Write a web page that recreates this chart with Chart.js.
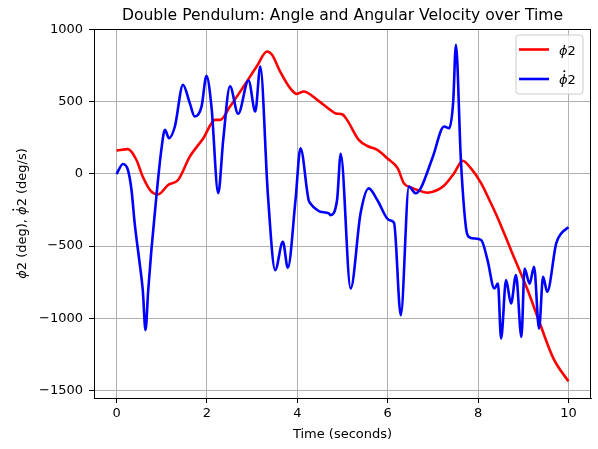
<!DOCTYPE html>
<html><head><meta charset="utf-8">
<script src="https://cdn.jsdelivr.net/npm/chart.js@4.4.0/dist/chart.umd.min.js"></script>
<style>html,body{margin:0;padding:0;background:#fff;overflow:hidden;} #wrap{width:598px;height:449px;position:relative;}</style>
</head><body><div id="wrap"><canvas id="c" width="598" height="449"></canvas></div>
<script>
const timePhi = [0.00,0.25,0.44,0.58,0.77,0.92,1.14,1.36,1.62,1.92,2.18,2.29,2.51,2.81,3.10,3.33,3.44,3.62,3.84,3.99,4.14,4.44,4.73,4.85,5.00,5.10,5.36,5.55,5.77,5.99,6.22,6.36,6.51,6.66,6.88,7.10,7.25,7.47,7.66,7.84,8.07,8.25,8.44,8.73,9.10,9.37,9.67,10.00];
const phi2 = [162,172,97,-19,-123,-141,-76,-42,120,248,375,375,467,606,745,849,826,710,595,555,572,514,444,420,412,375,236,194,167,109,40,-65,-93,-111,-130,-111,-80,5,92,40,-65,-180,-308,-528,-806,-1037,-1280,-1438];
const timeOmega = [0.00,0.14,0.25,0.33,0.40,0.51,0.58,0.64,0.70,0.77,0.88,0.99,1.07,1.16,1.29,1.47,1.62,1.73,1.88,1.99,2.10,2.25,2.36,2.51,2.69,2.92,3.07,3.18,3.35,3.51,3.68,3.79,3.96,4.07,4.25,4.29,4.44,4.51,4.70,4.73,4.88,4.96,5.18,5.40,5.58,5.77,6.03,6.14,6.29,6.47,6.62,6.73,7.00,7.25,7.36,7.45,7.51,7.62,7.73,7.79,7.92,8.07,8.21,8.36,8.44,8.51,8.62,8.73,8.84,8.96,9.03,9.14,9.24,9.35,9.44,9.53,9.73,9.84,10.00];
const omega2 = [0,69,28,-111,-340,-618,-806,-1083,-806,-528,-157,167,306,248,329,618,491,398,467,680,467,-134,236,608,417,648,433,745,-150,-667,-470,-650,-180,178,-180,-204,-250,-262,-273,-285,-180,139,-794,-273,-100,-180,-319,-338,-979,-88,-134,-100,120,329,317,500,896,97,-366,-435,-447,-458,-597,-794,-760,-1141,-736,-898,-701,-1130,-655,-760,-643,-1072,-713,-817,-481,-412,-370];
const xTicks = [0,2,4,6,8,10];
const yTicks = [-1500,-1000,-500,0,500,1000];
const titleText = 'Double Pendulum: Angle and Angular Velocity over Time';
const xLabel = 'Time (seconds)';
// label pieces: text, italic, dotted (time derivative)
const yLabelParts = [['ϕ', true, false], ['2 (deg), ', false, false], ['ϕ', true, true], ['2 (deg/s)', false, false]];
const legendParts = [
  [['ϕ', true, false], ['2', false, false]],
  [['ϕ', true, true], ['2', false, false]]
];
const seriesLabels = ['phi2', 'phi2 dot'];
const seriesColors = ['#ff0000', '#0000ff'];

const FONT = 'DejaVu Sans';

function fontFor(italic, size) {
  return (italic ? 'italic ' : '') + size + 'px "' + FONT + '"';
}
function partsWidth(ctx, parts, size) {
  let w = 0;
  parts.forEach(p => { ctx.font = fontFor(p[1], size); w += ctx.measureText(p[0]).width; });
  return w;
}
// draws parts left-to-right starting at x, with alphabetic baseline at y
function drawParts(ctx, parts, x, y, size) {
  ctx.textAlign = 'left';
  ctx.textBaseline = 'alphabetic';
  parts.forEach(p => {
    ctx.font = fontFor(p[1], size);
    const w = ctx.measureText(p[0]).width;
    ctx.fillText(p[0], x, y);
    if (p[2]) {
      ctx.beginPath();
      ctx.arc(x + w * 0.62, y - size * 0.98, size * 0.075, 0, Math.PI * 2);
      ctx.fill();
    }
    x += w;
  });
}

const framePlugin = {
  id: 'frame',
  afterDatasetsDraw(chart) {
    const {ctx, chartArea: a} = chart;
    ctx.save();
    ctx.strokeStyle = '#000';
    ctx.lineWidth = 1;
    ctx.strokeRect(Math.round(a.left) + 0.5, Math.round(a.top) + 0.5, Math.round(a.right - a.left) - 1, Math.round(a.bottom - a.top));
    ctx.restore();
  },
  afterDraw(chart) {
    const {ctx, chartArea: a} = chart;
    ctx.save();
    ctx.fillStyle = '#000';
    // title
    ctx.font = '15.6px "' + FONT + '"';
    ctx.textAlign = 'center';
    ctx.textBaseline = 'alphabetic';
    ctx.fillText(titleText, (a.left + a.right) / 2, 20);
    // y axis label (rotated)
    const ys = 13;
    const yw = partsWidth(ctx, yLabelParts, ys);
    ctx.save();
    ctx.translate(26, (a.top + a.bottom) / 2);
    ctx.rotate(-Math.PI / 2);
    drawParts(ctx, yLabelParts, -yw / 2, 0, ys);
    ctx.restore();
    // legend
    const bx = a.right - 75, by = a.top + 6, bw = 67, bh = 59, r = 3;
    ctx.beginPath();
    ctx.moveTo(bx + r, by);
    ctx.arcTo(bx + bw, by, bx + bw, by + bh, r);
    ctx.arcTo(bx + bw, by + bh, bx, by + bh, r);
    ctx.arcTo(bx, by + bh, bx, by, r);
    ctx.arcTo(bx, by, bx + bw, by, r);
    ctx.closePath();
    ctx.fillStyle = 'rgba(255,255,255,0.8)';
    ctx.fill();
    ctx.strokeStyle = '#cccccc';
    ctx.lineWidth = 1;
    ctx.stroke();
    const rows = [by + 14.5, by + 44];
    rows.forEach((yy, i) => {
      ctx.lineWidth = 2.6;
      ctx.strokeStyle = seriesColors[i];
      ctx.beginPath();
      ctx.moveTo(bx + 3, yy);
      ctx.lineTo(bx + 33, yy);
      ctx.stroke();
      ctx.fillStyle = '#000';
      drawParts(ctx, legendParts[i], bx + 43, yy + 5, 13);
    });
    ctx.restore();
  }
};

const chart = new Chart(document.getElementById('c'), {
  type: 'line',
  data: {
    datasets: [
      {
        label: seriesLabels[0],
        data: timePhi.map((t, i) => ({x: t, y: phi2[i]})),
        borderColor: seriesColors[0],
        borderWidth: 2.6,
        pointRadius: 0,
        cubicInterpolationMode: 'monotone',
        fill: false,
        order: 2
      },
      {
        label: seriesLabels[1],
        data: timeOmega.map((t, i) => ({x: t, y: omega2[i]})),
        borderColor: seriesColors[1],
        borderWidth: 2.6,
        pointRadius: 0,
        cubicInterpolationMode: 'monotone',
        fill: false,
        order: 1
      }
    ]
  },
  options: {
    responsive: false,
    animation: false,
    devicePixelRatio: 1,
    layout: {padding: {left: 0, right: 7, top: 29, bottom: 0}},
    plugins: {
      legend: {display: false},
      title: {display: false},
      tooltip: {enabled: false}
    },
    scales: {
      x: {
        type: 'linear',
        min: -0.5,
        max: 10.5,
        afterBuildTicks(scale) { scale.ticks = xTicks.map(v => ({value: v})); },
        afterFit(scale) { scale.height = 51; },
        grid: {color: '#b0b0b0', lineWidth: 1, tickLength: 5, tickColor: '#000', tickWidth: 1},
        border: {display: true, color: '#000', width: 1},
        ticks: {color: '#000', font: {family: FONT, size: 13}, padding: 3, maxRotation: 0, autoSkip: false},
        title: {display: true, text: xLabel, color: '#000', font: {family: FONT, size: 13}, padding: {top: 0, bottom: 7}}
      },
      y: {
        type: 'linear',
        min: -1553,
        max: 1005,
        afterBuildTicks(scale) { scale.ticks = yTicks.map(v => ({value: v})); },
        afterFit(scale) { scale.width = 94; },
        grid: {color: '#b0b0b0', lineWidth: 1, tickLength: 5, tickColor: '#000', tickWidth: 1},
        border: {display: true, color: '#000', width: 1},
        ticks: {color: '#000', font: {family: FONT, size: 13}, padding: 6, autoSkip: false,
                callback: v => (v < 0 ? '\u2212' + Math.abs(v) : String(v))},
        title: {display: false}
      }
    }
  },
  plugins: [framePlugin]
});
</script>
</body></html>
